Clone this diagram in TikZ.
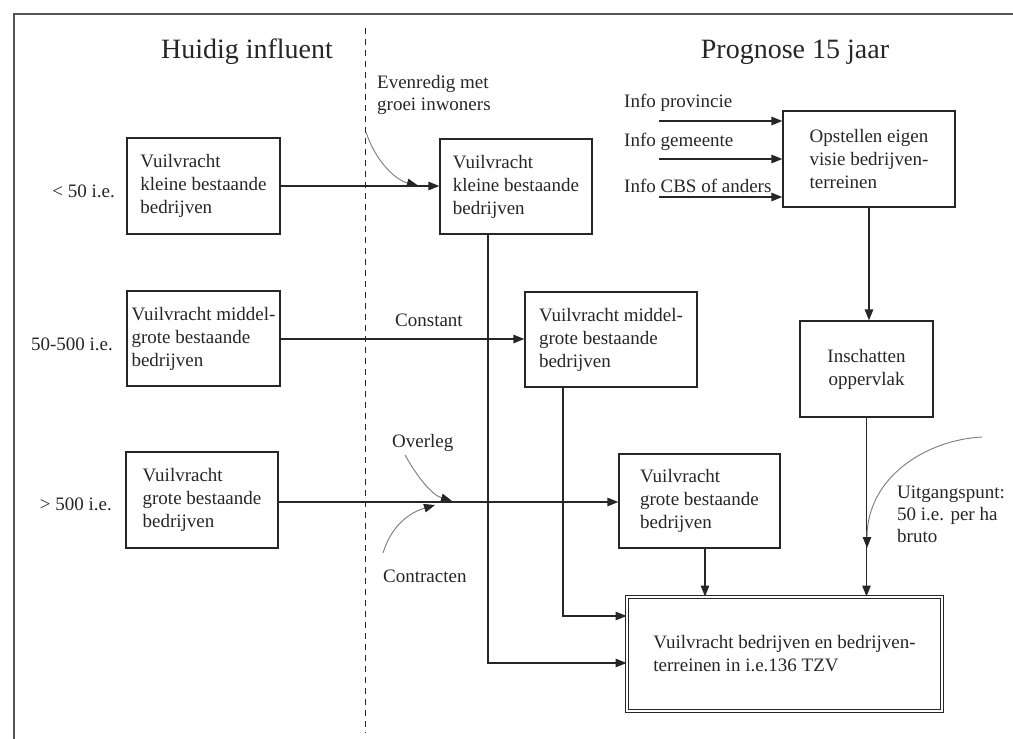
\documentclass[tikz,border=0pt]{standalone}
\usepackage{fontspec}
\setmainfont{Liberation Serif}
\usetikzlibrary{arrows.meta}

\definecolor{ink}{HTML}{262626}
\definecolor{note}{HTML}{7A7A7A}
\definecolor{rim}{HTML}{555555}

\tikzset{
  txt/.style={font=\fontsize{19}{23}\selectfont, text=ink, inner sep=0pt},
  blok/.style={txt, draw=ink, line width=1.3pt, align=left},
  eind/.style={blok, double, double distance=1.8pt, line width=1pt},
  kop/.style={font=\fontsize{28}{32}\selectfont, text=ink, inner sep=0pt, anchor=base},
  lbl/.style={txt, align=left},
  pijl/.style={draw=ink, line width=1.3pt, -{Triangle[length=11pt,width=8.5pt]}},
  notitie/.style={draw=note, line width=0.9pt, -{Triangle[length=11pt,width=8.5pt,color=ink]}},
  scheiding/.style={draw=ink, line width=1pt, dash pattern=on 6pt off 5pt},
  kader/.style={draw=rim, line width=1.4pt},
}

\begin{document}
\begin{tikzpicture}[x=1pt,y=-1pt]
\useasboundingbox (0,0) rectangle (1013,739);

% outer frame and divider between the two columns
\coordinate (f0) at (14,739);
\coordinate (f1) at (14,14);
\coordinate (f2) at (1013,14);
\draw[kader] (f0) -- (f1) -- (f2);
\coordinate (d0) at (365,28);
\coordinate (d1) at (365,733);
\draw[scheiding] (d0) -- (d1);

% column headings
\node[kop] (h1) at (247,58) {Huidig influent};
\node[kop] (h2) at (795,58) {Prognose 15 jaar};

% current load, by size class
\node[blok, minimum width=153pt, minimum height=96pt] (a1) at (203.5,186) {Vuilvracht\\kleine bestaande\\bedrijven};
\node[blok, minimum width=153pt, minimum height=95pt] (a2) at (203.5,338.5) {Vuilvracht middel-\\grote bestaande\\bedrijven};
\node[blok, minimum width=152pt, minimum height=96pt] (a3) at (202,500) {Vuilvracht\\grote bestaande\\bedrijven};

\node[lbl, anchor=base east] (k1) at (115,197) {< 50 i.e.};
\node[lbl, anchor=base east] (k2) at (113,350) {50-500 i.e.};
\node[lbl, anchor=base east] (k3) at (112,510) {> 500 i.e.};

% forecast
\node[blok, minimum width=152pt, minimum height=95pt] (b1) at (516,186.5) {Vuilvracht\\kleine bestaande\\bedrijven};
\node[blok, minimum width=172pt, minimum height=95pt] (b2) at (611,339.5) {Vuilvracht middel-\\grote bestaande\\bedrijven};
\node[blok, minimum width=161pt, minimum height=94pt] (b3) at (699.5,501) {Vuilvracht\\grote bestaande\\bedrijven};
\node[blok, minimum width=172pt, minimum height=96pt] (op) at (869,159) {Opstellen eigen\\visie bedrijven-\\terreinen};
\node[blok, align=center, minimum width=133pt, minimum height=96pt] (ins) at (866.5,369) {Inschatten\\oppervlak};
\node[eind, minimum width=315pt, minimum height=114pt] (fin) at (784.5,654) {Vuilvracht bedrijven en bedrijven-\\terreinen in i.e.136 TZV};

% information sources
\node[lbl, anchor=base west] (p1) at (624,107) {Info provincie};
\node[lbl, anchor=base west] (p2) at (624,146) {Info gemeente};
\node[lbl, anchor=base west] (p3) at (624,192) {Info CBS of anders};
\coordinate (i1) at (659,121);
\coordinate (i2) at (659,159);
\coordinate (i3) at (659,197);
\draw[pijl] (i1) -- (i1 -| op.west);
\draw[pijl] (i2) -- (i2 -| op.west);
\draw[pijl] (i3) -- (i3 -| op.west);

% main flows
\draw[pijl] (a1.east) -- (a1.east -| b1.west);
\draw[pijl] ([yshift=-0.5pt]a2.east) -- ([yshift=-0.5pt]a2.east -| b2.west);
\draw[pijl] ([yshift=-2pt]a3.east) -- ([yshift=-2pt]a3.east -| b3.west);
\draw[pijl] ([xshift=-28pt]b1.south) |- ([yshift=-9pt]fin.west);
\draw[pijl] ([xshift=-48pt]b2.south) |- ([yshift=38pt]fin.west);
\draw[pijl] ([xshift=5.5pt]b3.south) -- ([xshift=5.5pt]b3.south |- fin.north);
\draw[pijl] (op.south) -- (op.south |- ins.north);
\draw[pijl] (ins.south) -- (ins.south |- fin.north);

% annotations (base anchor of a multi-line label = baseline of its last line)
\node[lbl, anchor=base west] (n1) at (377,110) {Evenredig met\\[-1pt]groei inwoners};
\node[lbl, anchor=base west] (n2) at (395,326) {Constant};
\node[lbl, anchor=base west] (n3) at (392,447) {Overleg};
\node[lbl, anchor=base west] (n4) at (383,582) {Contracten};
\node[lbl, anchor=base west] (n5) at (897,542) {Uitgangspunt:\\[-1pt]50 i.e. per ha\\[-1pt]bruto};

\coordinate (c1) at (366,132);
\coordinate (c2) at (405,455);
\coordinate (c3) at (383,553);
\coordinate (c4) at (982,437);
\draw[notitie] (c1) .. controls (375,160) and (395,180) .. (418,185.5);
\draw[notitie] (c2) .. controls (418,478) and (432,495) .. (452,501);
\draw[notitie] (c3) .. controls (390,530) and (405,514) .. (435,505);
\draw[notitie] (c4) .. controls (925,440) and (867,478) .. (867,548);
\end{tikzpicture}
\end{document}
